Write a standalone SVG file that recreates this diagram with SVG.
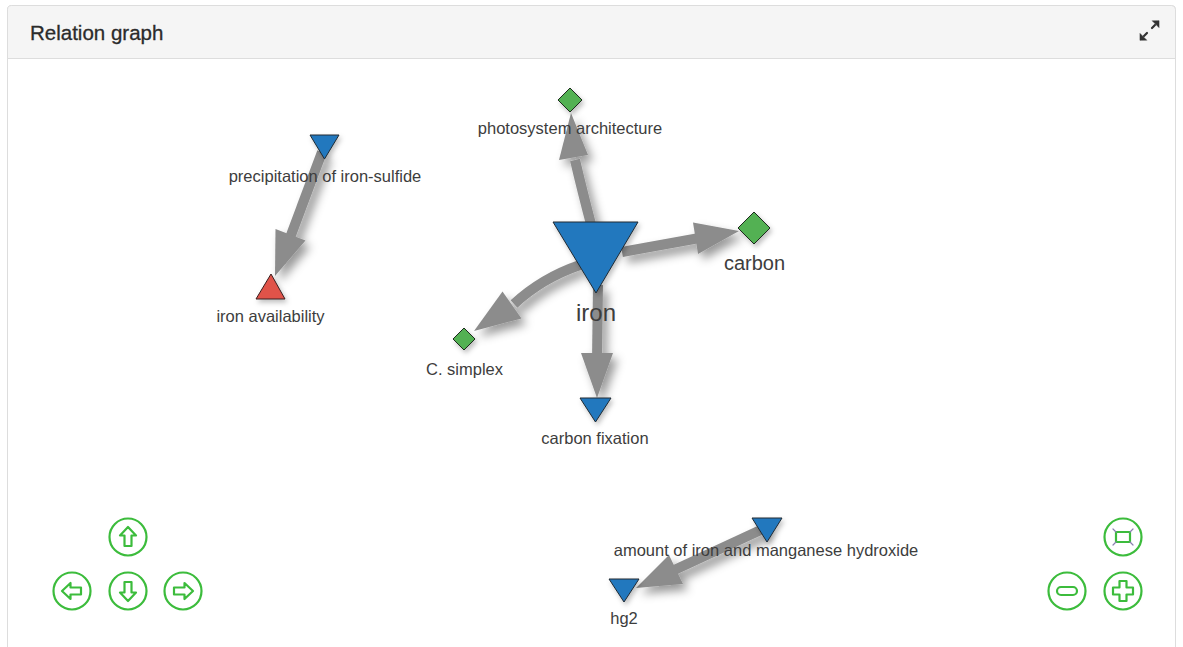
<svg xmlns="http://www.w3.org/2000/svg" width="1183" height="647" viewBox="0 0 1183 647">
<defs>
<filter id="sh" x="-50%" y="-50%" width="200%" height="200%">
<feDropShadow dx="5" dy="6" stdDeviation="5" flood-color="#000" flood-opacity="0.4"/>
</filter>
<filter id="nsh" x="-50%" y="-50%" width="200%" height="200%">
<feDropShadow dx="2" dy="3" stdDeviation="2.5" flood-color="#000" flood-opacity="0.25"/>
</filter>
<style>
.edge{fill:none;stroke:#8c8c8c;stroke-width:10;}
.head{fill:#8c8c8c;stroke:none;}
.blue{fill:#2478be;stroke:#1f2a33;stroke-width:1;}
.green{fill:#52b152;stroke:#1f2a1f;stroke-width:1;}
.red{fill:#e0524a;stroke:#3a1f1f;stroke-width:1;}
.lbl{font-family:"Liberation Sans",Arial,sans-serif;font-size:16.5px;fill:#3d3d3d;text-anchor:middle;}
.btn{fill:none;stroke:#3cbc3c;stroke-width:2.2;stroke-linejoin:round;stroke-linecap:round;}
</style>
</defs>
<rect x="0" y="0" width="1183" height="647" fill="#ffffff"/>
<g id="panel">
<rect x="7.5" y="5.5" width="1168" height="660" rx="4" fill="#ffffff" stroke="#dddddd"/>
<path d="M7.5,58.5 V9.5 a4,4 0 0 1 4,-4 H1171.5 a4,4 0 0 1 4,4 V58.5 Z" fill="#f5f5f5" stroke="#dddddd"/>
<text x="30" y="40" font-family="'Liberation Sans',Arial,sans-serif" font-size="20.5" fill="#2b2b2b" stroke="#2b2b2b" stroke-width="0.3">Relation graph</text>
<g id="expand" fill="#333" stroke="#333" stroke-linecap="round">
<line x1="1152" y1="28" x2="1155" y2="25" stroke-width="2.2"/>
<polygon points="1159,21 1159,27.5 1152.5,21" stroke-width="0.6"/>
<line x1="1147" y1="33" x2="1144" y2="36" stroke-width="2.2"/>
<polygon points="1140,40 1140,33.5 1146.5,40" stroke-width="0.6"/>
</g>
</g>
<g id="connectors" filter="url(#sh)">
<path class="edge" d="M322,152 L281,262"/>
<polygon class="head" points="275,276 305.5,240.5 275.5,229"/>
<path class="edge" d="M592,228 Q582,190 575,160"/>
<polygon class="head" points="571,113 559,160 588,155"/>
<path class="edge" d="M622,252 L705,237"/>
<polygon class="head" points="739,231 698,254 693,222.5"/>
<path class="edge" d="M580,265 Q542,278 514,304"/>
<polygon class="head" points="474,331 521.5,318.4 502.5,291.6"/>
<path class="edge" d="M598,285 L597,360"/>
<polygon class="head" points="597,398 581,353 613,353"/>
<path class="edge" d="M765,528 L670,572"/>
<polygon class="head" points="636,588 683,584 669,555"/>
</g>
<g id="node-precipitation" filter="url(#nsh)">
<polygon class="blue" points="310,135 339,135 324.5,159"/>
</g>
<g id="node-iron-availability" filter="url(#nsh)">
<polygon class="red" points="271,274 256,299 285,299"/>
</g>
<g id="node-photosystem" filter="url(#nsh)">
<polygon class="green" points="570,88 582,100 570,112 558,100"/>
</g>
<g id="node-iron" filter="url(#nsh)">
<polygon class="blue" points="553,222 638,222 596,293"/>
</g>
<g id="node-carbon" filter="url(#nsh)">
<polygon class="green" points="754,212 770,228 754,244 738,228"/>
</g>
<g id="node-csimplex" filter="url(#nsh)">
<polygon class="green" points="464,328 475,339 464,350 453,339"/>
</g>
<g id="node-carbon-fixation" filter="url(#nsh)">
<polygon class="blue" points="580,398 611,398 595.5,422"/>
</g>
<g id="node-amount" filter="url(#nsh)">
<polygon class="blue" points="752,518 782,518 767,542"/>
</g>
<g id="node-hg2" filter="url(#nsh)">
<polygon class="blue" points="609,579 639,579 624,602"/>
</g>
<g id="labels">
<text class="lbl" x="325" y="182">precipitation of iron-sulfide</text>
<text class="lbl" x="270.5" y="322">iron availability</text>
<text class="lbl" x="570" y="134">photosystem architecture</text>
<text class="lbl" x="596" y="321" style="font-size:24px">iron</text>
<text class="lbl" x="754.5" y="270" style="font-size:20px">carbon</text>
<text class="lbl" x="464.5" y="375">C. simplex</text>
<text class="lbl" x="595" y="444">carbon fixation</text>
<text class="lbl" x="766" y="556">amount of iron and manganese hydroxide</text>
<text class="lbl" x="624" y="624">hg2</text>
</g>
<g id="nav-buttons">
<g id="btn-up">
<circle class="btn" cx="128" cy="537" r="18.5"/>
<path class="btn" d="M128,527 L136,535.5 L131.5,535.5 L131.5,546 L124.5,546 L124.5,535.5 L120,535.5 Z"/>
</g>
<g id="btn-left">
<circle class="btn" cx="72" cy="591" r="18.5"/>
<path class="btn" d="M128,527 L136,535.5 L131.5,535.5 L131.5,546 L124.5,546 L124.5,535.5 L120,535.5 Z" transform="translate(72,591) rotate(-90) translate(-128,-537)"/>
</g>
<g id="btn-down">
<circle class="btn" cx="128" cy="591" r="18.5"/>
<path class="btn" d="M128,527 L136,535.5 L131.5,535.5 L131.5,546 L124.5,546 L124.5,535.5 L120,535.5 Z" transform="translate(128,591) rotate(180) translate(-128,-537)"/>
</g>
<g id="btn-right">
<circle class="btn" cx="183" cy="591" r="18.5"/>
<path class="btn" d="M128,527 L136,535.5 L131.5,535.5 L131.5,546 L124.5,546 L124.5,535.5 L120,535.5 Z" transform="translate(183,591) rotate(90) translate(-128,-537)"/>
</g>
<g id="btn-fit">
<circle class="btn" cx="1123" cy="537" r="18.5"/>
<rect class="btn" x="1116" y="532" width="14" height="10"/>
<g stroke="#8a7fb0" stroke-width="1.2" stroke-linecap="round">
<line x1="1113" y1="529" x2="1116" y2="532"/>
<line x1="1133" y1="529" x2="1130" y2="532"/>
<line x1="1113" y1="545" x2="1116" y2="542"/>
<line x1="1133" y1="545" x2="1130" y2="542"/>
</g>
</g>
<g id="btn-zoom-out">
<circle class="btn" cx="1067" cy="591" r="18.5"/>
<rect class="btn" x="1057" y="587" width="20" height="8" rx="4"/>
</g>
<g id="btn-zoom-in">
<circle class="btn" cx="1123" cy="591" r="18.5"/>
<path class="btn" d="M1119.5,581 h7 v6.5 h6.5 v7 h-6.5 v6.5 h-7 v-6.5 h-6.5 v-7 h6.5 Z"/>
</g>
</g>
</svg>
